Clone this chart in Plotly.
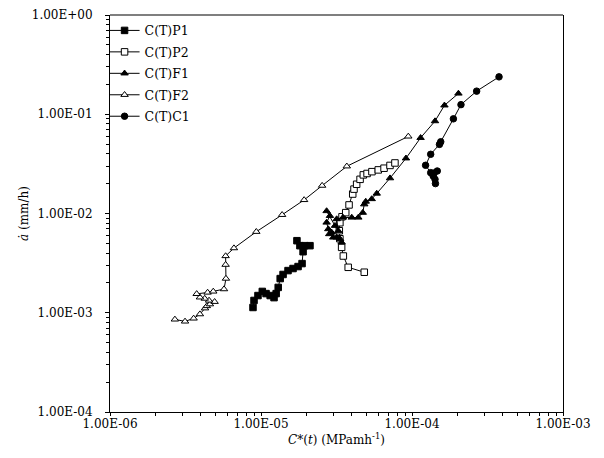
import plotly.graph_objects as go

# ---- data ----
p1_x = [8.85e-6, 8.99e-6, 9.55e-6, 1.02e-5, 1.08e-5, 1.15e-5, 1.22e-5, 1.26e-5, 1.30e-5, 1.34e-5,
        1.40e-5, 1.51e-5, 1.63e-5, 1.76e-5, 1.87e-5, 1.90e-5, 1.81e-5, 1.73e-5, 1.95e-5, 2.11e-5]
p1_y = [1.13e-3, 1.33e-3, 1.49e-3, 1.64e-3, 1.56e-3, 1.49e-3, 1.42e-3, 1.56e-3, 1.80e-3, 2.21e-3,
        2.43e-3, 2.66e-3, 2.79e-3, 2.92e-3, 3.13e-3, 4.12e-3, 4.74e-3, 5.32e-3, 4.74e-3, 4.74e-3]

p2_x = [4.83e-5, 3.78e-5, 3.51e-5, 3.42e-5, 3.33e-5, 3.30e-5, 3.33e-5, 3.44e-5, 3.64e-5, 3.83e-5,
        4.05e-5, 4.13e-5, 4.30e-5, 4.53e-5, 4.76e-5, 5.04e-5, 5.43e-5, 5.98e-5, 6.53e-5, 7.15e-5, 7.71e-5]
p2_y = [2.56e-3, 2.87e-3, 3.73e-3, 4.56e-3, 5.57e-3, 6.70e-3, 8.07e-3, 9.27e-3, 1.02e-2, 1.22e-2,
        1.57e-2, 1.76e-2, 1.97e-2, 2.21e-2, 2.45e-2, 2.53e-2, 2.64e-2, 2.75e-2, 2.86e-2, 3.05e-2, 3.23e-2]

f1_x = [3.42e-5, 3.34e-5, 3.17e-5, 3.01e-5, 2.94e-5, 2.83e-5, 2.79e-5, 2.72e-5, 2.86e-5, 2.72e-5,
        3.09e-5, 3.25e-5, 3.17e-5, 3.49e-5, 3.99e-5, 4.41e-5, 4.72e-5, 4.83e-5, 4.94e-5, 5.41e-5,
        5.84e-5, 7.15e-5, 9.12e-5, 1.14e-4, 1.42e-4, 1.64e-4, 2.03e-4]
f1_y = [5.12e-3, 5.53e-3, 5.74e-3, 5.74e-3, 6.44e-3, 6.21e-3, 6.97e-3, 8.12e-3, 9.48e-3, 1.06e-2,
        7.53e-3, 6.70e-3, 8.79e-3, 9.12e-3, 9.12e-3, 9.12e-3, 1.02e-2, 1.24e-2, 1.32e-2, 1.40e-2,
        1.59e-2, 2.27e-2, 3.60e-2, 5.79e-2, 8.53e-2, 1.23e-1, 1.62e-1]

f2_x = [2.69e-6, 3.14e-6, 3.58e-6, 3.94e-6, 4.26e-6, 4.38e-6, 4.59e-6, 4.93e-6, 4.53e-6, 4.24e-6,
        3.94e-6, 3.75e-6, 4.43e-6, 4.83e-6, 5.69e-6, 5.86e-6, 5.83e-6, 5.83e-6, 6.62e-6, 9.31e-6,
        1.38e-5, 1.93e-5, 2.54e-5, 3.70e-5, 9.45e-5]
f2_y = [8.57e-4, 8.18e-4, 8.77e-4, 9.68e-4, 1.11e-3, 1.17e-3, 1.22e-3, 1.29e-3, 1.33e-3, 1.39e-3,
        1.43e-3, 1.55e-3, 1.60e-3, 1.64e-3, 1.73e-3, 2.21e-3, 3.05e-3, 3.73e-3, 4.48e-3, 6.55e-3,
        9.70e-3, 1.37e-2, 1.91e-2, 2.99e-2, 5.98e-2]

c1_x = [1.43e-4, 1.42e-4, 1.38e-4, 1.47e-4, 1.40e-4, 1.33e-4, 1.23e-4, 1.33e-4, 1.52e-4, 1.55e-4,
        1.88e-4, 2.11e-4, 2.68e-4, 3.77e-4]
c1_y = [2.00e-2, 2.21e-2, 2.39e-2, 2.68e-2, 2.56e-2, 2.58e-2, 3.06e-2, 3.95e-2, 4.97e-2, 5.28e-2,
        8.99e-2, 1.25e-1, 1.71e-1, 2.38e-1]

x_tickvals = [1e-6, 1e-5, 1e-4, 1e-3]
x_ticktext = ["1.00E-06", "1.00E-05", "1.00E-04", "1.00E-03"]
y_tickvals = [1e-4, 1e-3, 1e-2, 1e-1, 1e0]
y_ticktext = ["1.00E-04", "1.00E-03", "1.00E-02", "1.00E-01", "1.00E+00"]

series_names = ["C(T)P1", "C(T)P2", "C(T)F1", "C(T)F2", "C(T)C1"]
series_x = [p1_x, p2_x, f1_x, f2_x, c1_x]
series_y = [p1_y, p2_y, f1_y, f2_y, c1_y]
series_symbol = ["square", "square", "triangle-up", "triangle-up", "circle"]
series_fill = ["black", "white", "black", "white", "black"]

x_minor = [m * 10.0 ** e for e in range(-6, -3) for m in range(2, 10)]
y_minor = [m * 10.0 ** e for e in range(-4, 0) for m in range(2, 10)]

FONT = "DejaVu Serif"

fig = go.Figure()
for name, xs, ys, sym, fill in zip(series_names, series_x, series_y, series_symbol, series_fill):
    fig.add_trace(go.Scatter(
        x=xs, y=ys, name=name, legendgroup=name, mode="lines+markers",
        line=dict(color="black", width=1),
        marker=dict(symbol=sym, size=6.5, color=fill, line=dict(color="black", width=1)),
    ))

# page body has an ~8px margin, so the figure is sized to fit the 604x458 window
fig.update_layout(
    width=596, height=450,
    margin=dict(l=102, r=41, t=7, b=46),
    paper_bgcolor="white", plot_bgcolor="white",
    font=dict(family=FONT, size=12, color="black"),
    showlegend=True,
    legend=dict(x=-0.012, y=0.998, xanchor="left", yanchor="top",
                bgcolor="rgba(0,0,0,0)", font=dict(family=FONT, size=12.5),
                itemwidth=30, tracegroupgap=2.2),
    shapes=[dict(type="line", xref="x domain", yref="y domain", x0=0, x1=1, y0=1, y1=1,
                 layer="above", line=dict(color="#7f7f7f", width=2))],
)
fig.update_xaxes(
    type="log", range=[-6, -3], automargin=False,
    tickvals=x_tickvals, ticktext=x_ticktext,
    ticks="outside", ticklen=3, tickcolor="black", ticklabelstandoff=-2,
    ticklabeloverflow="allow",
    minor=dict(tickvals=x_minor, ticks="outside", ticklen=3, tickcolor="black", showgrid=False),
    showline=True, linecolor="black", linewidth=1, showgrid=False, zeroline=False,
    title=dict(text="<i>C*</i>(<i>t</i>) (MPamh<sup>-1</sup>)", standoff=2,
               font=dict(family=FONT, size=12)),
)
fig.update_yaxes(
    type="log", range=[-4, 0], automargin=False,
    tickvals=y_tickvals, ticktext=y_ticktext,
    ticks="outside", ticklen=4, tickcolor="black", ticklabelstandoff=10,
    ticklabeloverflow="allow",
    minor=dict(tickvals=y_minor, ticks="outside", ticklen=3, tickcolor="black", showgrid=False),
    showline=True, linecolor="black", linewidth=1, mirror=True, showgrid=False, zeroline=False,
    title=dict(text="<i>ȧ</i> (mm/h)", standoff=0, font=dict(family=FONT, size=12)),
)

fig.write_html("out.html")
